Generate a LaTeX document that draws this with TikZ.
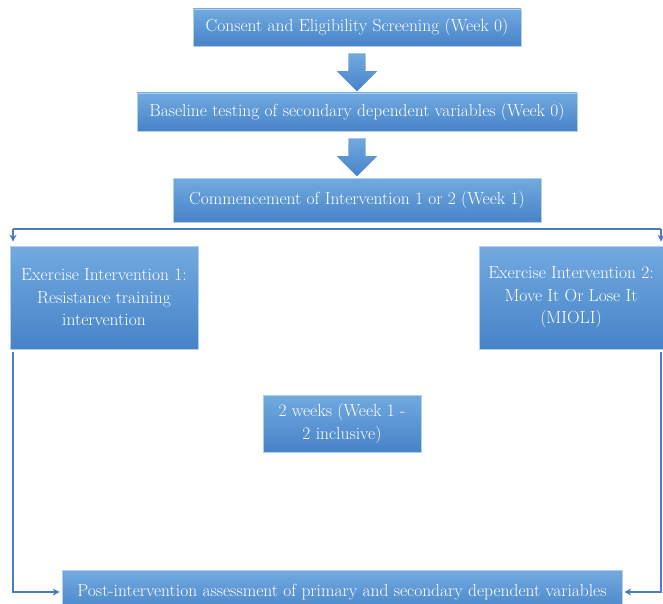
\documentclass[tikz,border=0pt]{standalone}
\usepackage{amsmath}
\usetikzlibrary{shapes.arrows,arrows.meta}
\definecolor{boxtop}{HTML}{72A9DF}
\definecolor{boxbot}{HTML}{4683C8}
\definecolor{lineblue}{HTML}{4A7EBB}
\tikzset{
  box/.style={rectangle, draw=boxtop!55!white, line width=0.6pt, top color=boxtop, bottom color=boxbot,
    text=white, font=\fontsize{17.5}{22.5}\selectfont, align=center, inner sep=0pt},
  downarrow/.style={single arrow, shape border rotate=270, top color=boxtop, bottom color=boxbot,
    draw=none, inner sep=8.5pt, minimum height=38pt, single arrow head extend=11.5pt,
    single arrow tip angle=90},
  conn/.style={draw=lineblue, line width=1.8pt},
  tip/.style={-{Stealth[length=7pt,width=7pt]}}
}
\begin{document}
\begin{tikzpicture}[x=1pt,y=-1pt]
\useasboundingbox (0,0) rectangle (663,604);
\node[box, minimum width=328pt, minimum height=37pt] (consent) at (357,27.5) {Consent and Eligibility Screening (Week 0)};
\node[downarrow] (arr1) at (357,68) {};
\node[box, minimum width=440pt, minimum height=38pt] (baseline) at (357,112) {Baseline testing of secondary dependent variables (Week 0)};
\node[downarrow] (arr2) at (357,153) {};
\node[box, minimum width=368pt, minimum height=44pt] (commence) at (357,200) {Commencement of Intervention 1 or 2 (Week 1)};
\node[box, minimum width=188pt, minimum height=103pt] (ex1) at (104,297.5) {Exercise Intervention 1:\\Resistance training\\intervention};
\node[box, minimum width=184pt, minimum height=103pt] (ex2) at (571,297.5) {Exercise Intervention 2:\\Move It Or Lose It\\(MIOLI)};
\node[box, minimum width=158pt, minimum height=57pt] (weeks) at (342,423.5) {2 weeks (Week 1 -\\2 inclusive)};
\node[box, minimum width=560pt, minimum height=44pt] (post) at (342,592) {Post-intervention assessment of primary and secondary dependent variables};
% split under the commencement box
\coordinate (splitL) at (13,229);
\coordinate (splitR) at (661,229);
\draw[conn] (splitL) -- (splitR);
\draw[conn,tip,shorten >=4pt] (splitL) -- (splitL |- ex1.north);
\draw[conn,tip,shorten >=4pt] (splitR) -- (splitR |- ex2.north);
% back to the assessment
\draw[conn,tip,shorten >=2pt] ([yshift=-3pt]ex1.south -| splitL) -- (splitL |- post) -- (post.west);
\draw[conn,tip,shorten >=2pt] ([yshift=-3pt]ex2.south -| splitR) -- (splitR |- post) -- (post.east);
\end{tikzpicture}
\end{document}
